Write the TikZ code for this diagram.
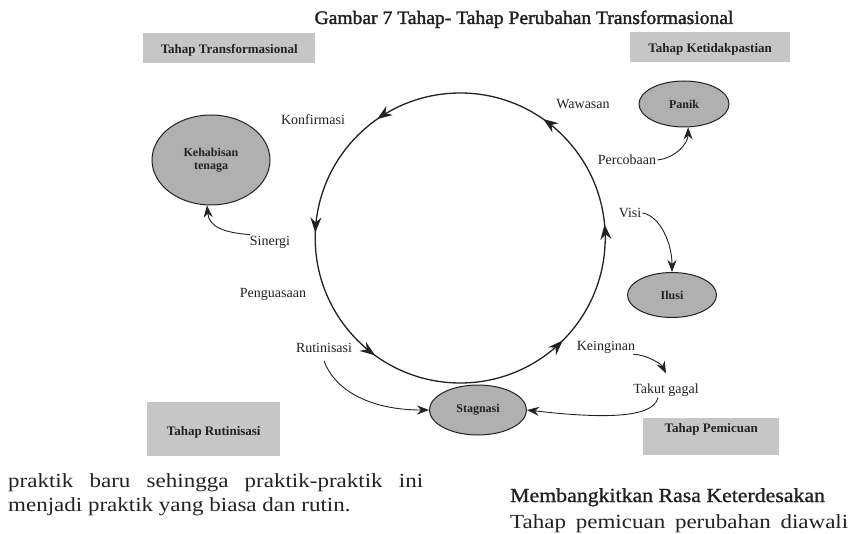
\documentclass[tikz,border=0pt]{standalone}
\usepackage{fontspec}
\setmainfont{Liberation Serif}
\newfontfamily\bodyfont[FakeStretch=1.15]{Liberation Serif}
\newfontfamily\headfont[FakeStretch=1.09,FakeBold=1]{Liberation Serif}
\newfontfamily\titlefont[FakeStretch=1.03,FakeBold=1.8]{Liberation Serif}
\usetikzlibrary{arrows.meta,decorations.markings,shapes.geometric}
\definecolor{ink}{HTML}{222222}
\definecolor{boxgray}{HTML}{C6C6C6}
\definecolor{ellgray}{HTML}{B0B0B0}
\begin{document}
\begin{tikzpicture}[x=1pt,y=-1pt,
  lbl/.style={font=\fontsize{14}{16}\selectfont, text=ink, inner sep=1pt},
  boxlbl/.style={fill=boxgray, font=\fontsize{13}{15}\selectfont\bfseries, text=ink, inner xsep=0pt, inner ysep=0pt, anchor=north west},
  ell/.style={ellipse, draw=ink, line width=1pt, fill=ellgray, inner sep=0pt, font=\fontsize{12}{13}\selectfont\bfseries, text=ink, align=center},
  arr/.style={draw=ink, line width=0.9pt, -{Stealth[length=12pt,width=9pt]}},
  cyctip/.style={decoration={markings,
     mark=at position 0.015 with {\arrow{Stealth[length=15pt,width=11pt]}},
     mark=at position 0.153 with {\arrow{Stealth[length=15pt,width=11pt]}},
     mark=at position 0.347 with {\arrow{Stealth[length=15pt,width=11pt]}},
     mark=at position 0.494 with {\arrow{Stealth[length=15pt,width=11pt]}},
     mark=at position 0.650 with {\arrow{Stealth[length=15pt,width=11pt]}},
     mark=at position 0.875 with {\arrow{Stealth[length=15pt,width=11pt]}}},
     postaction={decorate}},
  body/.style={anchor=base west, inner sep=0pt, text=ink, font=\bodyfont\fontsize{20}{22}\selectfont}
]
\clip (0,0) rectangle (850,534);
\fill[white] (0,0) rectangle (850,534);

% title
\node[anchor=base, inner sep=0pt, text=ink, font=\titlefont\fontsize{19}{22}\selectfont] (title) at (524,24) {Gambar 7 Tahap- Tahap Perubahan Transformasional};

% stage boxes
\node[boxlbl, minimum width=172pt, text height=20.5pt, text depth=9.5pt] (bT) at (143,33) {Tahap Transformasional};
\node[boxlbl, minimum width=160pt, text height=20pt, text depth=10pt] (bK) at (630,32) {Tahap Ketidakpastian};
\node[boxlbl, minimum width=133pt, text height=33pt, text depth=21pt] (bR) at (147,402) {Tahap Rutinisasi};
\node[boxlbl, minimum width=136pt, text height=14pt, text depth=23pt] (bP) at (643,418) {Tahap Pemicuan};

% cycle
\node[circle, minimum size=290pt, inner sep=0pt] (cyc) at (460,238) {};
\draw[ink, line width=1.3pt, cyctip] (cyc.east) arc[start angle=0, end angle=-360, radius=145];

% ellipses
\node[ell, minimum width=118pt, minimum height=90pt] (keh) at (211,160) {Kehabisan\\tenaga};
\node[ell, minimum width=90pt, minimum height=46pt] (pan) at (684,104) {Panik};
\node[ell, minimum width=89pt, minimum height=45pt] (ilu) at (672,295) {Ilusi};
\node[ell, minimum width=97pt, minimum height=50pt] (stag) at (478,410) {Stagnasi};

% labels
\node[lbl] (konf) at (313,120) {Konfirmasi};
\node[lbl] (waw) at (583,104) {Wawasan};
\node[lbl] (perc) at (627,160) {Percobaan};
\node[lbl] (visi) at (630,213) {Visi};
\node[lbl] (sin) at (270,242) {Sinergi};
\node[lbl] (peng) at (273,294) {Penguasaan};
\node[lbl] (rut) at (324,348) {Rutinisasi};
\node[lbl] (kei) at (606,347) {Keinginan};
\node[lbl] (tak) at (666,390) {Takut gagal};

% connectors
\draw[arr] (sin.160) .. controls +(-25,-2) and +(2,22) .. (keh.265);
\draw[arr] ([yshift=-7pt]rut.south) .. controls +(12,32) and +(-55,0) .. (stag.west);
\draw[arr] (kei.-15) .. controls +(12,0) and +(-5,-10) .. ([yshift=9pt]tak.north);
\draw[arr] ([xshift=-8pt]tak.south) .. controls +(-5,22) and +(70,8) .. (stag.east);
\draw[arr] (perc.east) .. controls +(18,-2) and +(0,16) .. (pan.280);
\draw[arr] (visi.east) .. controls +(18,3) and +(0,-28) .. (ilu.north);

% surrounding text
\node[body] (p1) at (8,487) {\makebox[415pt][s]{praktik baru sehingga praktik-praktik ini}};
\node[body] (p2) at (8,511) {menjadi praktik yang biasa dan rutin.};
\node[anchor=base west, inner sep=0pt, text=ink, font=\headfont\fontsize{20}{22}\selectfont] (h1) at (510,502) {Membangkitkan Rasa Keterdesakan};
\node[body] (p3) at (510,528) {\makebox[338pt][s]{Tahap pemicuan perubahan diawali}};
\end{tikzpicture}
\end{document}
